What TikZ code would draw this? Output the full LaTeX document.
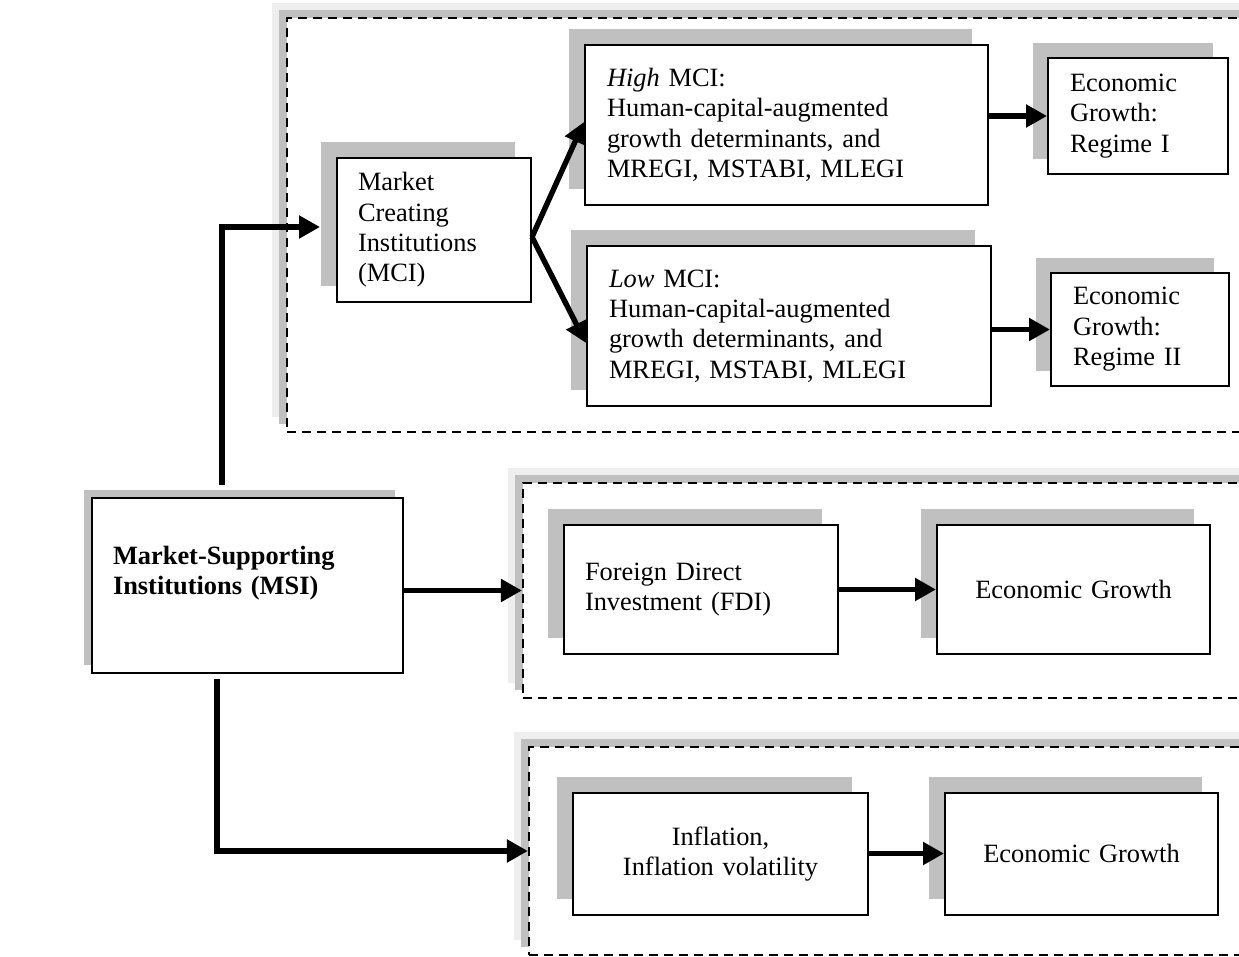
\documentclass[tikz,border=0pt]{standalone}
\usepackage{fontspec}
\setmainfont{Liberation Serif}
\usetikzlibrary{arrows.meta,shadows}
\definecolor{shade}{RGB}{192,192,192}
\definecolor{lightshade}{RGB}{238,238,238}

\begin{document}
\begin{tikzpicture}[x=0.5pt,y=-0.5pt,
  box/.style={draw, line width=1pt, fill=white, inner sep=0pt, inner xsep=10.5pt,
    font=\fontsize{13.2}{15.2}\selectfont,
    general shadow={fill=shade, shadow xshift=-#1, shadow yshift=#1}},
  box/.default=8pt,
  frame/.style={draw, line width=1.1pt, dash pattern=on 4.5pt off 3pt, fill=white, inner sep=0pt,
    general shadow={fill=lightshade, shadow xshift=-7.5pt, shadow yshift=7.5pt},
    general shadow={fill=shade, shadow xshift=-4pt, shadow yshift=4pt}},
  arr/.style={line width=2.7pt, -{Triangle[length=10.5pt,width=11pt]}}]
\useasboundingbox (0,0) rectangle (1239,957);
\clip (0,0) rectangle (1239,957);

\node[frame, minimum width=486.5pt, minimum height=207pt] (topframe) at (773.5,225) {};
\node[frame, minimum width=368.5pt, minimum height=107.5pt] (midframe) at (891.5,590.5) {};
\node[frame, minimum width=365.5pt, minimum height=104pt] (botframe) at (894.5,851) {};

\node[box=4pt, minimum width=155.5pt, minimum height=87.5pt, text width=134.5pt, align=left,
  font=\fontsize{13.2}{15.2}\selectfont\bfseries] (msi) at (247.5,585.5)
  {Market-Supporting\\Institutions (MSI)\\ \mbox{}};

\node[box, minimum width=97pt, minimum height=72pt, text width=76pt, align=left] (mci) at (434,230)
  {Market\\Creating\\Institutions\\(MCI)};
\node[box, minimum width=201.5pt, minimum height=80pt, text width=179.5pt, align=left] (high) at (786.5,125)
  {\textit{High} MCI:\\Human-capital-augmented\\growth determinants, and\\MREGI, MSTABI, MLEGI};
\node[box, minimum width=202pt, minimum height=80pt, text width=180pt, align=left] (low) at (789,326)
  {\textit{Low} MCI:\\Human-capital-augmented\\growth determinants, and\\MREGI, MSTABI, MLEGI};
\node[box=7.5pt, minimum width=90pt, minimum height=58pt, text width=68pt, align=left] (regI) at (1138,116)
  {Economic\\Growth:\\Regime I};
\node[box=7.5pt, minimum width=89pt, minimum height=56.5pt, text width=67pt, align=left] (regII) at (1140,329.5)
  {Economic\\Growth:\\Regime II};

\node[box, minimum width=136pt, minimum height=64.5pt, text width=116pt, align=left] (fdi) at (701,589.5)
  {Foreign Direct\\Investment (FDI)};
\node[box, minimum width=136.5pt, minimum height=64.5pt, text width=115.5pt, align=center] (egA) at (1073.5,589.5)
  {Economic Growth};

\node[box, minimum width=147.5pt, minimum height=61pt, text width=126.5pt, align=center] (infl) at (720.5,854)
  {Inflation,\\Inflation volatility};
\node[box, minimum width=136.5pt, minimum height=61pt, text width=115.5pt, align=center] (egB) at (1081.5,853.5)
  {Economic Growth};

\draw[arr] ([xshift=-12.75pt,yshift=6pt]msi.north) |- ([xshift=-8pt,yshift=1.5pt]mci.west);
\draw[arr] (msi.east |- midframe.west) -- (midframe.west);
\draw[arr] ([xshift=-15.25pt,yshift=-2.5pt]msi.south) |- (botframe.west);
\draw[arr] ([yshift=-3.5pt]mci.east) -- ([yshift=1.5pt]high.west);
\draw[arr] ([yshift=-3.5pt]mci.east) -- ([yshift=-8.5pt]low.west);
\draw[arr] (high.east |- regI.west) -- (regI.west);
\draw[arr] (low.east |- regII.west) -- (regII.west);
\draw[arr] (fdi.east) -- (egA.west);
\draw[arr] (infl.east |- egB.west) -- (egB.west);
\end{tikzpicture}
\end{document}
